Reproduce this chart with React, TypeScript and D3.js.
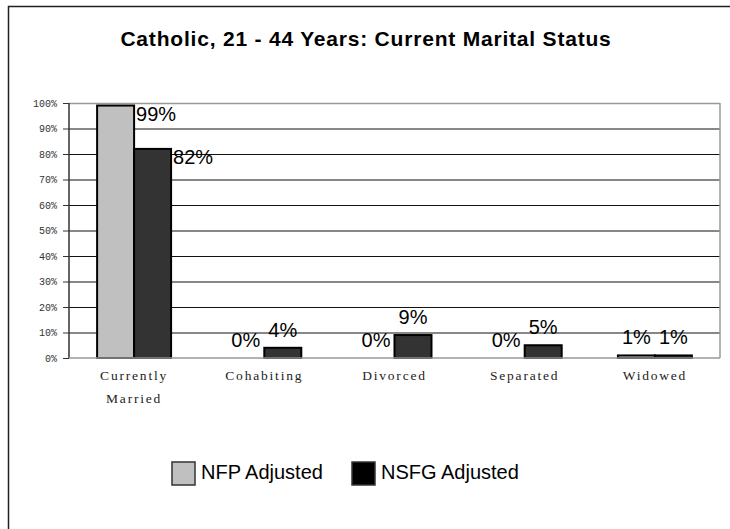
import React from "react"
import * as d3 from "d3"

const categories = [["Currently", "Married"], ["Cohabiting"], ["Divorced"], ["Separated"], ["Widowed"]]
const seriesNames = ["NFP Adjusted", "NSFG Adjusted"]
const nfpValues = [99, 0, 0, 0, 1]
const nsfgValues = [82, 4, 9, 5, 1]
const yTicks = [0, 10, 20, 30, 40, 50, 60, 70, 80, 90, 100]

const barFill = ["#c0c0c0", "#333333"]
const legendFill = ["#c0c0c0", "#000000"]

const width = 730
const height = 529
const plot = { left: 69, right: 720, top: 103, bottom: 358 }

export default function App() {
    const catKeys = categories.map(c => c.join(" "))
    const x0 = d3.scaleBand().domain(catKeys).range([plot.left, plot.right]).padding(0)
    const x1 = d3
        .scaleBand()
        .domain(seriesNames)
        .range([0, x0.bandwidth()])
        .paddingInner(0)
        .paddingOuter(0.76)
    const y = d3.scaleLinear().domain([0, 100]).range([plot.bottom, plot.top])

    const allSeries = [nfpValues, nsfgValues]

    return (
        <div style={{ position: "absolute", left: 0, top: 0 }}>
            <svg width={width} height={height} style={{ display: "block", background: "#fff" }}>
                {/* outer frame, runs off the right and bottom edge */}
                <rect x={8.5} y={6.5} width={800} height={600} fill="none" stroke="#222" strokeWidth={1.5} />

                <text
                    x={366}
                    y={46}
                    textAnchor="middle"
                    fontFamily="Liberation Sans, Arial, sans-serif"
                    fontWeight="bold"
                    fontSize={21}
                    letterSpacing={0.8}
                    fill="#000"
                >
                    Catholic, 21 - 44 Years: Current Marital Status
                </text>

                {/* gridlines */}
                {yTicks.filter(t => t > 0 && t < 100).map(t => (
                    <line key={t} x1={plot.left} x2={plot.right} y1={y(t) + 0.5} y2={y(t) + 0.5} stroke="#111" strokeWidth={1} />
                ))}
                {/* plot area border */}
                <line x1={plot.left} x2={plot.right} y1={y(100) + 0.5} y2={y(100) + 0.5} stroke="#999" strokeWidth={1.5} />
                <line x1={plot.right} x2={plot.right} y1={plot.top} y2={plot.bottom} stroke="#999" strokeWidth={1.5} />

                {/* y axis */}
                <line x1={plot.left} x2={plot.left} y1={plot.top} y2={plot.bottom} stroke="#333" strokeWidth={1.5} />
                {yTicks.map(t => (
                    <g key={t}>
                        <line x1={plot.left - 6} x2={plot.left} y1={y(t) + 0.5} y2={y(t) + 0.5} stroke="#333" strokeWidth={1} />
                        <text
                            x={plot.left - 12}
                            y={y(t) + 3.5}
                            textAnchor="end"
                            fontFamily="Liberation Mono, monospace"
                            fontSize={10}
                            fill="#333"
                        >
                            {t + "%"}
                        </text>
                    </g>
                ))}

                {/* bars */}
                {allSeries.map((vals, si) =>
                    vals.map((v, ci) => {
                        const bx = x0(catKeys[ci])! + x1(seriesNames[si])!
                        const bw = x1.bandwidth()
                        return (
                            <rect
                                key={si + "-" + ci}
                                x={bx}
                                y={y(v)}
                                width={bw}
                                height={y(0) - y(v)}
                                fill={barFill[si]}
                                stroke="#000"
                                strokeWidth={2}
                            />
                        )
                    })
                )}

                {/* baseline */}
                <line x1={plot.left} x2={plot.right} y1={plot.bottom} y2={plot.bottom} stroke="#999" strokeWidth={1.5} />

                {/* value labels */}
                {allSeries.map((vals, si) =>
                    vals.map((v, ci) => {
                        const bx = x0(catKeys[ci])! + x1(seriesNames[si])!
                        const bw = x1.bandwidth()
                        const big = v >= 50
                        return (
                            <text
                                key={"l" + si + "-" + ci}
                                x={big ? bx + bw + 2 : bx + bw / 2}
                                y={big ? y(v) + 15 : y(v) - 11}
                                textAnchor={big ? "start" : "middle"}
                                fontFamily="Liberation Sans, Arial, sans-serif"
                                fontSize={20}
                                fill="#000"
                            >
                                {v + "%"}
                            </text>
                        )
                    })
                )}

                {/* category labels */}
                {categories.map((lines, ci) => (
                    <text
                        key={"c" + ci}
                        x={x0(catKeys[ci])! + x0.bandwidth() / 2}
                        y={380}
                        textAnchor="middle"
                        fontFamily="Liberation Serif, Times New Roman, serif"
                        fontSize={13.5}
                        letterSpacing={1.8}
                        fill="#222"
                    >
                        {lines.map((l, li) => (
                            <tspan key={li} x={x0(catKeys[ci])! + x0.bandwidth() / 2} dy={li === 0 ? 0 : 23}>
                                {l}
                            </tspan>
                        ))}
                    </text>
                ))}

                {/* legend */}
                {seriesNames.map((name, si) => {
                    const lx = [172, 352][si]
                    return (
                        <g key={name}>
                            <rect x={lx} y={462} width={23} height={23} fill={legendFill[si]} stroke="#333" strokeWidth={1.5} />
                            <text
                                x={lx + 29}
                                y={479}
                                fontFamily="Liberation Sans, Arial, sans-serif"
                                fontSize={20}
                                fill="#000"
                            >
                                {name}
                            </text>
                        </g>
                    )
                })}
            </svg>
        </div>
    )
}
